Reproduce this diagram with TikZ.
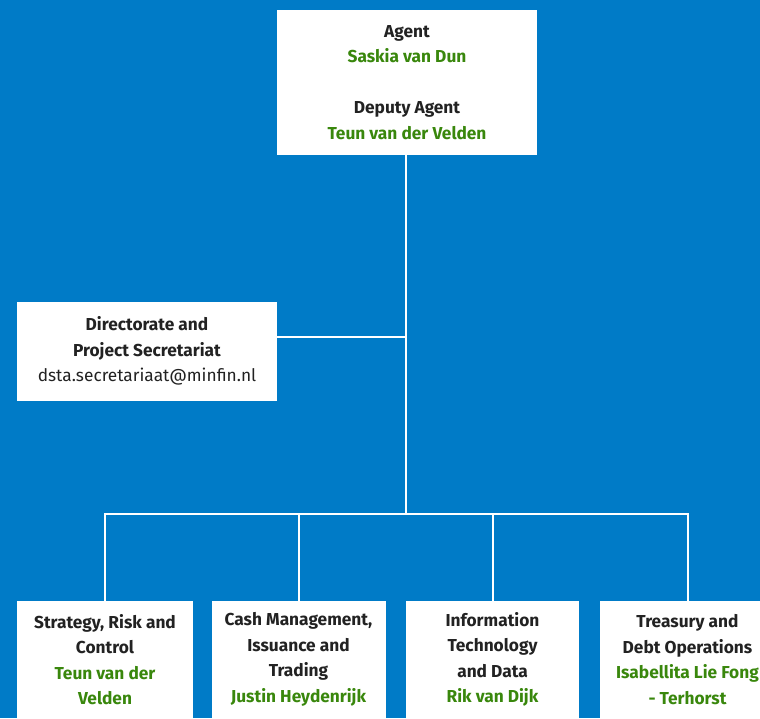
\documentclass[tikz,border=0pt]{standalone}
\usepackage{fontspec}
\setmainfont{Fira Sans}
\definecolor{bgblue}{HTML}{007BC7}
\definecolor{rogreen}{HTML}{39870C}
\definecolor{txt}{HTML}{222222}
\begin{document}
\begin{tikzpicture}[x=1pt,y=-1pt,
  box/.style={draw=none,fill=white,inner sep=0pt,align=center,text=txt,
    font=\fontsize{17.3}{25.5}\selectfont},
  conn/.style={draw=white,line width=2pt}]
\fill[bgblue] (0,0) rectangle (760,718);
\useasboundingbox (0,0) rectangle (760,718);
\clip (0,0) rectangle (760,718);
\node[box,minimum width=260pt,minimum height=145pt] (agent) at (407,82.5)
  {\bfseries Agent\\ \bfseries\color{rogreen}Saskia van Dun\\[25.5pt]
   \bfseries Deputy Agent\\ \bfseries\color{rogreen}Teun van der Velden};
\node[box,minimum width=260pt,minimum height=99pt] (dir) at (147,351)
  {\bfseries Directorate and\\ \bfseries Project Secretariat\\ dsta.secretariaat@minfin.nl};
\node[box,minimum width=176pt,minimum height=117pt] (b1) at (105,659.5)
  {\bfseries Strategy, Risk and\\ \bfseries Control\\ \bfseries\color{rogreen}Teun van der\\ \bfseries\color{rogreen}Velden};
\node[box,minimum width=174pt,minimum height=117pt] (b2) at (298.5,659.5)
  {\bfseries Cash Management,\\ \bfseries Issuance and\\ \bfseries Trading\\ \bfseries\color{rogreen}Justin Heydenrijk};
\node[box,minimum width=173pt,minimum height=117pt] (b3) at (492.5,659.5)
  {\bfseries Information\\ \bfseries Technology\\ \bfseries and Data\\ \bfseries\color{rogreen}Rik van Dijk};
\node[box,minimum width=175pt,minimum height=117pt] (b4) at (687.5,659.5)
  {\bfseries Treasury and\\ \bfseries Debt Operations\\ \bfseries\color{rogreen}Isabellita Lie Fong\\ \bfseries\color{rogreen}- Terhorst};
\coordinate (j) at (406,337);
\coordinate (bus) at (406,514);
\draw[conn] (agent.south -| bus) -- (bus);
\draw[conn] (dir.east |- j) -- (j);
\draw[conn] (b1.north) -- (b1.north |- bus) -- (b4.north |- bus) -- (b4.north);
\draw[conn] (b2.north) -- (b2.north |- bus);
\draw[conn] (b3.north) -- (b3.north |- bus);
\end{tikzpicture}
\end{document}
